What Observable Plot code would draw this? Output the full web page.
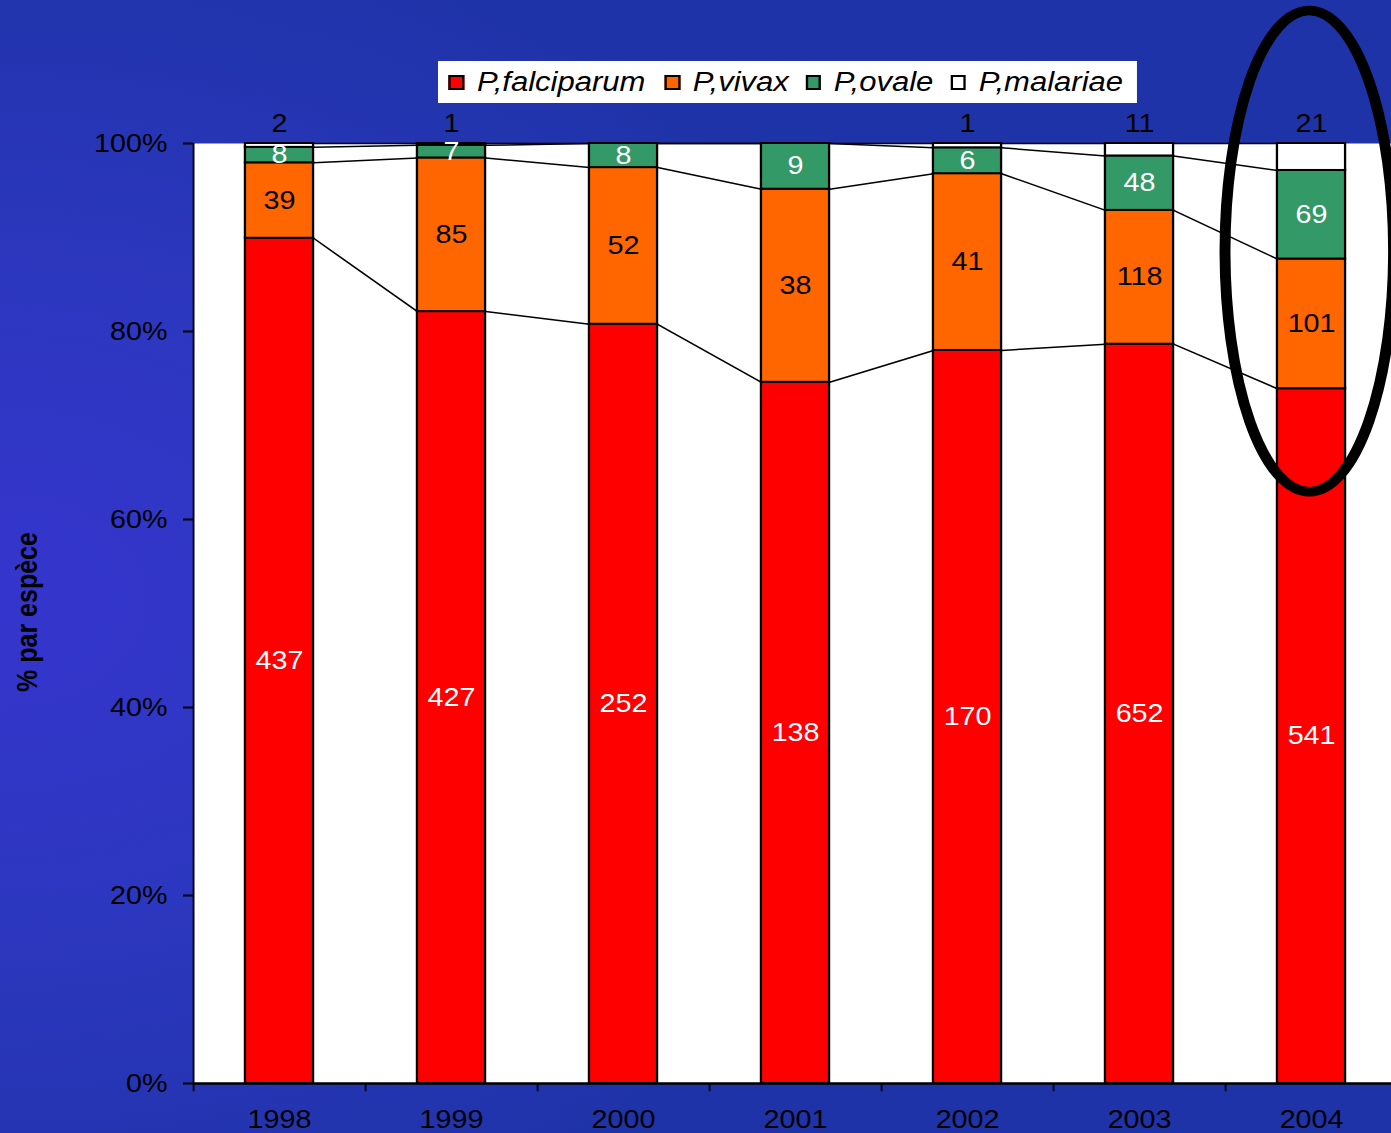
<!DOCTYPE html>
<html>
<head>
<meta charset="utf-8">
<script src="https://cdn.jsdelivr.net/npm/d3@7"></script>
<script src="https://cdn.jsdelivr.net/npm/@observablehq/plot@0.6"></script>
<style>
  html, body { margin: 0; padding: 0; overflow: hidden; }
  #page {
    position: relative; width: 1391px; height: 1133px; overflow: hidden;
    background: radial-gradient(ellipse 950px 700px at 0px 600px, #3535cd 0%, #2c37bf 45%, #1f33a8 100%);
  }
  #stage {
    position: absolute; left: 0; top: 0; width: 1210px; height: 1133px;
    transform: scaleX(1.1496); transform-origin: 0 0;
    font-family: "Liberation Sans", Arial, sans-serif; color: #000;
  }
  #legend { position: absolute; left: 381px; top: 61px; width: 608px; height: 42px; background: #fff; }
  .sw { position: absolute; top: 14px; width: 13.5px; height: 15px; box-sizing: border-box; border: 2px solid #000; }
  .lt { position: absolute; top: 0; font-style: italic; font-size: 27px; line-height: 42px; white-space: nowrap; }
  #ytitle {
    position: absolute; left: 24px; top: 612px; transform: translate(-50%, -50%) rotate(-90deg);
    font-weight: bold; font-size: 25px; white-space: nowrap;
  }
  #stage svg [aria-label="y-axis tick"] path, #stage svg [aria-label="y-axis"] line { stroke-width: 2; }
</style>
</head>
<body>
<div id="page">
  <div id="stage">
    <div id="chart"></div>
    <div id="legend"></div>
    <div id="ytitle">% par espèce</div>
  </div>
</div>
<script>
// ---- data ----
const years = [1998, 1999, 2000, 2001, 2002, 2003, 2004];
const species = ["P,falciparum", "P,vivax", "P,ovale", "P,malariae"];
const falciparum = [437, 427, 252, 138, 170, 652, 541];
const vivax = [39, 85, 52, 38, 41, 118, 101];
const ovale = [8, 7, 8, 9, 6, 48, 69];
const malariae = [2, 1, 0, 0, 1, 11, 21];
const speciesColors = ["#ff0000", "#ff6600", "#339966", "#ffffff"];
const yTickValues = [0, 0.2, 0.4, 0.6, 0.8, 1];

// ---- layout ----
const S = 1391 / 1210;          // horizontal stretch of the stage
const W = 1210, H = 1133;
const ML = 193 / S;
const STEP = 172 / S;
const HALF = 0.198;             // half bar width, in years

// ---- derived rows ----
const series = [falciparum, vivax, ovale, malariae];
const rows = [];
years.forEach((yr, i) => {
  const vals = series.map(s => s[i]);
  const total = d3.sum(vals);
  let cum = 0;
  vals.forEach((v, k) => {
    rows.push({year: yr, k, species: species[k], count: v, y1: cum / total, y2: (cum + v) / total});
    cum += v;
  });
});
const links = [];
for (let k = 0; k < 4; k++) {
  for (let i = 0; i < years.length - 1; i++) {
    const a = rows.find(d => d.year === years[i] && d.k === k);
    const b = rows.find(d => d.year === years[i + 1] && d.k === k);
    links.push({x1: a.year + HALF, x2: b.year - HALF, y1: a.y2, y2: b.y2});
  }
}
const bounds = years.map(y => y - 0.5);
const mid = d => (d.y1 + d.y2) / 2;
const lab = d => String(d.count);

const chart = Plot.plot({
  width: W, height: H,
  marginTop: 143, marginBottom: 50, marginLeft: ML, marginRight: 0,
  style: {fontFamily: "Liberation Sans, Arial, sans-serif", fontSize: "25px", color: "#000", background: "transparent", overflow: "visible"},
  x: {type: "linear", domain: [1997.5, 2004.5], range: [ML, ML + 7 * STEP], ticks: years,
      tickFormat: d => String(d), tickSize: 0, tickPadding: 27, label: null},
  y: {domain: [0, 1], ticks: yTickValues, tickFormat: d => Math.round(d * 100) + "%",
      tickSize: 10 / S, tickPadding: 14, label: null},
  color: {domain: species, range: speciesColors},
  marks: [
    Plot.frame({fill: "white", stroke: "none"}),
    Plot.link(links, {x1: "x1", y1: "y1", x2: "x2", y2: "y2", stroke: "black", strokeWidth: 1.5}),
    Plot.rect(rows.filter(d => d.count > 0), {
      x1: d => d.year - HALF, x2: d => d.year + HALF, y1: "y1", y2: "y2",
      fill: "species", stroke: "black", strokeWidth: 2
    }),
    Plot.text(rows.filter(d => d.k === 0), {x: "year", y: mid, text: lab, fill: "white", fontSize: 25}),
    Plot.text(rows.filter(d => d.k === 1), {x: "year", y: mid, text: lab, fill: "black", fontSize: 25}),
    Plot.text(rows.filter(d => d.k === 2), {x: "year", y: mid, text: lab, fill: "white", fontSize: 25}),
    Plot.text(rows.filter(d => d.k === 3 && d.count > 0), {x: "year", y: d => d.y2, dy: -20, text: lab, fill: "black", fontSize: 25}),
    Plot.ruleX([1997.5], {stroke: "black", strokeWidth: 1.6}),
    Plot.ruleY([0], {stroke: "black", strokeWidth: 2.6}),
    Plot.ruleX(bounds, {x: d => d, y1: () => 0, y2: () => -0.0088, stroke: "black", strokeWidth: 1.6})
  ]
});
document.getElementById("chart").appendChild(chart);

// highlight ellipse around the last year, placed through the plot's scales
const sx = chart.scale("x"), sy = chart.scale("y");
const cx = sx.apply(2003.99), cy = sy.apply(0.885);
const rx = sx.apply(2003.99 + 0.49) - cx, ry = sy.apply(0.885 - 0.256) - cy;
d3.select(chart).append("ellipse")
  .attr("cx", cx).attr("cy", cy).attr("rx", rx).attr("ry", ry)
  .attr("fill", "none").attr("stroke", "black").attr("stroke-width", 9.5);

// legend
const legend = d3.select("#legend");
const swX = [9, 197, 319.5, 445.5];
const txX = [33.9, 221.7, 344.3, 470.4];
species.forEach((s, k) => {
  legend.append("div").attr("class", "sw").style("left", swX[k] + "px").style("background", speciesColors[k]);
  legend.append("div").attr("class", "lt").style("left", txX[k] + "px").text(s);
});
</script>
</body>
</html>
